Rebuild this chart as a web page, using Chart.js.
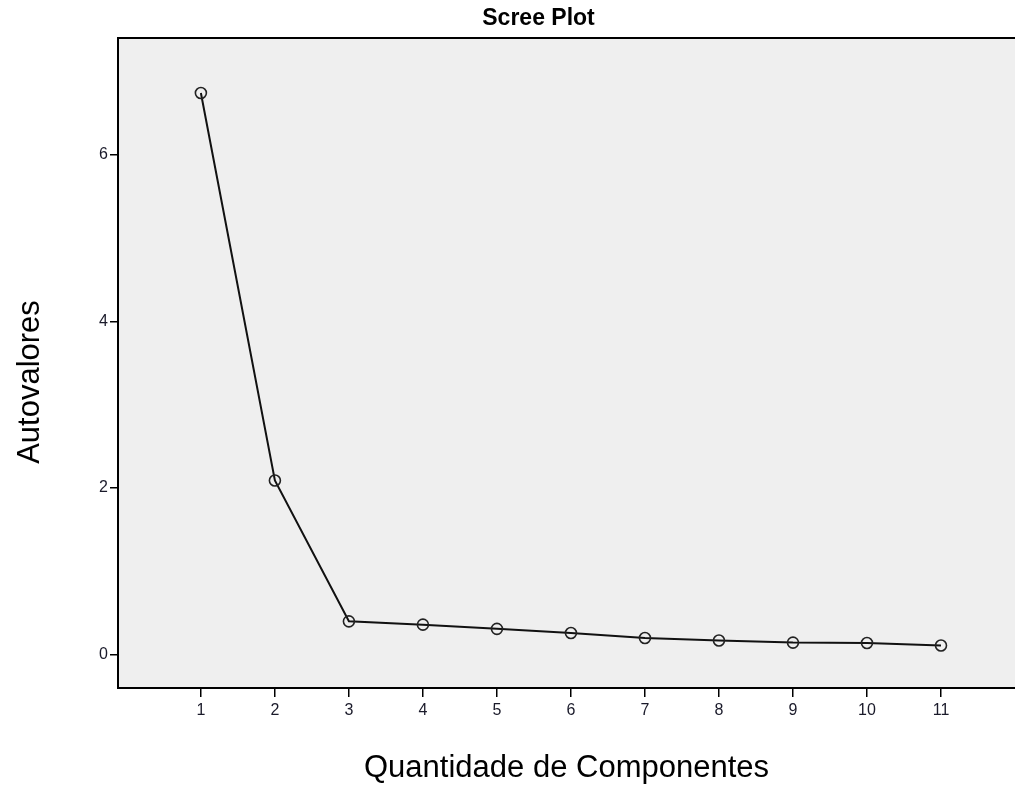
<!DOCTYPE html>
<html>
<head>
<meta charset="utf-8">
<script src="https://cdn.jsdelivr.net/npm/chart.js@4"></script>
<style>
    html, body { margin: 0; padding: 0; background: #fff; }
    #wrap { width: 1015px; height: 810px; }
</style>
</head>
<body>
<div id="wrap"><canvas id="screeChart"></canvas></div>
<script>
// Scree plot data
const components = [1, 2, 3, 4, 5, 6, 7, 8, 9, 10, 11];
const eigenvalues = [6.74, 2.09, 0.40, 0.36, 0.31, 0.26, 0.20, 0.17, 0.145, 0.14, 0.11];
const yTicks = [0, 2, 4, 6];

const FONT = 'Arial, "Liberation Sans", sans-serif';
const chartTitle = 'Scree Plot';
const yTitle = 'Autovalores';

// Gray plot background, top frame line, title and y title (SPSS style)
const plotFrame = {
    id: 'plotFrame',
    beforeDraw(chart) {
        const { ctx, chartArea: a } = chart;
        ctx.save();
        ctx.fillStyle = '#efefef';
        ctx.fillRect(a.left, a.top, a.right - a.left, a.bottom - a.top);
        ctx.restore();
    },
    afterDraw(chart) {
        const { ctx, chartArea: a } = chart;
        ctx.save();
        ctx.strokeStyle = '#000';
        ctx.lineWidth = 2;
        ctx.beginPath();
        ctx.moveTo(a.left - 1, a.top);
        ctx.lineTo(a.right, a.top);
        ctx.stroke();

        ctx.fillStyle = '#000';
        ctx.textAlign = 'center';
        ctx.textBaseline = 'middle';
        ctx.font = 'bold 23px ' + FONT;
        ctx.fillText(chartTitle, (a.left + a.right) / 2 - 28, 19);

        ctx.translate(30, (a.top + a.bottom) / 2 + 19);
        ctx.rotate(-Math.PI / 2);
        ctx.font = '31px ' + FONT;
        ctx.fillText(yTitle, 0, 0);
        ctx.restore();
    }
};

new Chart(document.getElementById('screeChart').getContext('2d'), {
    type: 'line',
    data: {
        datasets: [{
            data: components.map((c, i) => ({ x: c, y: eigenvalues[i] })),
            borderColor: '#111',
            borderWidth: 2,
            pointRadius: 5.5,
            pointBorderWidth: 1.6,
            pointBorderColor: '#222',
            pointBackgroundColor: 'rgba(0,0,0,0)',
            tension: 0
        }]
    },
    plugins: [plotFrame],
    options: {
        responsive: true,
        maintainAspectRatio: false,
        animation: false,
        layout: { padding: { top: 38 }, autoPadding: false },
        plugins: {
            legend: { display: false },
            tooltip: { enabled: false },
            title: { display: false }
        },
        scales: {
            x: {
                type: 'linear',
                min: -0.12,
                max: 12,
                afterBuildTicks: s => { s.ticks = components.map(v => ({ value: v })); },
                afterFit: s => { s.height = 122; s.paddingLeft = 0; s.paddingRight = 0; },
                grid: { drawOnChartArea: false, drawTicks: true, tickLength: 9, color: '#000', lineWidth: 1.5 },
                border: { display: true, color: '#000', width: 2 },
                ticks: {
                    color: '#1a1a2a',
                    padding: 4,
                    maxRotation: 0,
                    autoSkip: false,
                    font: { family: FONT, size: 16 },
                    callback: v => String(v)
                },
                title: {
                    display: true,
                    text: 'Quantidade de Componentes',
                    color: '#000',
                    font: { family: FONT, size: 31 },
                    padding: { top: 0, bottom: 23 }
                }
            },
            y: {
                min: -0.4,
                max: 7.4,
                afterBuildTicks: s => { s.ticks = yTicks.map(v => ({ value: v })); },
                afterFit: s => { s.width = 118; },
                grid: { drawOnChartArea: false, drawTicks: true, tickLength: 8, color: '#000', lineWidth: 1.5 },
                border: { display: true, color: '#000', width: 2 },
                ticks: {
                    color: '#1a1a2a',
                    padding: 2,
                    font: { family: FONT, size: 16 },
                    callback: v => String(v)
                }
            }
        }
    }
});
</script>
</body>
</html>
